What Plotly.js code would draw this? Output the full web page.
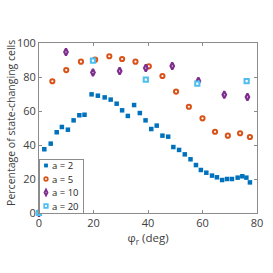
<!DOCTYPE html>
<html><head><meta charset="utf-8">
<script src="https://cdn.plot.ly/plotly-3.0.1.min.js"></script>
<style>html,body{margin:0;padding:0;background:#fff}#c{width:273px;height:273px}</style>
</head><body><div id="c"></div>
<script>
const phiA2 = [0, 1.95, 4.3, 6.5, 8.4, 10.6, 12.7, 14.8, 16.7, 19.3, 21.6, 24.1, 26.3, 28.5, 30.5, 32.6, 34.9, 37.0, 39.1, 41.2, 43.2, 45.3, 47.4, 49.3, 51.4, 53.5, 55.6, 57.6, 59.4, 61.4, 63.5, 65.3, 67.2, 69.0, 70.8, 72.9, 74.6, 76.1, 77.4];
const pctA2 = [0, 37.5, 40.8, 47.5, 50.6, 49, 54.5, 57.5, 57.8, 69.8, 69, 68, 66.7, 64.3, 60.4, 57.1, 63.5, 58.8, 54.5, 49.4, 51.4, 45.5, 44.9, 38.8, 37.1, 34.5, 31.6, 28.2, 25.3, 23.7, 22, 21, 19.4, 20, 20, 20.8, 21.6, 20.8, 18];
const phiA5 = [0, 4.9, 10.0, 15.4, 20.6, 25.8, 30.5, 35.4, 40.3, 45.3, 50.3, 55.0, 60.0, 64.6, 69.3, 73.8, 77.4];
const pctA5 = [0, 77.5, 84.1, 89, 90.2, 92.2, 90.6, 89, 86.3, 80.6, 71.4, 62.5, 55.7, 47.8, 45.5, 46.9, 44.7];
const phiA10 = [0, 9.9, 19.8, 29.6, 39.2, 48.9, 58.5, 68.0, 76.5];
const pctA10 = [0, 94.7, 82.7, 83.5, 85.3, 86.5, 77.6, 69.6, 68.2];
const phiA20 = [0, 19.8, 39.2, 58.1, 76.2];
const pctA20 = [0, 89.6, 78.4, 76.1, 77.6];
const seriesNames = ['a = 2', 'a = 5', 'a = 10', 'a = 20'];
const xTicks = [0, 20, 40, 60, 80];
const yTicks = [0, 20, 40, 60, 80, 100];
const xTitle = 'φ<sub>r</sub> (deg)';
const yTitle = 'Percentage of state-changing cells';

const FONT = 'Open Sans, sans-serif';
const traces = [
  {x: phiA2, y: pctA2, name: seriesNames[0], mode: 'markers', type: 'scatter', cliponaxis: false,
   marker: {symbol: 'square', size: 4.5, color: '#0072BD', line: {width: 0}}},
  {x: phiA5, y: pctA5, name: seriesNames[1], mode: 'markers', type: 'scatter', cliponaxis: false,
   marker: {symbol: 'circle', size: 4.2, color: '#ffffff', line: {width: 2, color: '#D95319'}}},
  {x: phiA10, y: pctA10, name: seriesNames[2], mode: 'markers', type: 'scatter', cliponaxis: false,
   marker: {symbol: 'diamond-tall', size: 5, color: '#ffffff', line: {width: 2.2, color: '#7E2F8E'}}},
  {x: phiA20, y: pctA20, name: seriesNames[3], mode: 'markers', type: 'scatter', cliponaxis: false,
   marker: {symbol: 'square', size: 4.2, color: '#ffffff', line: {width: 2, color: '#4DBEEE'}}}
];

const axisCommon = {
  showgrid: false, zeroline: false, showline: true, mirror: 'ticks',
  linecolor: '#8c8c8c', linewidth: 1, ticks: 'inside', ticklen: 3, tickcolor: '#8c8c8c',
  tickfont: {family: FONT, size: 11, color: '#404040'}
};

const layout = {
  width: 273, height: 273,
  margin: {l: 39, r: 16, t: 43, b: 60},
  paper_bgcolor: '#fff', plot_bgcolor: '#fff',
  showlegend: true,
  legend: {x: 0, y: 0, xanchor: 'left', yanchor: 'bottom', bgcolor: '#fff',
           bordercolor: '#8c8c8c', borderwidth: 1,
           font: {family: FONT, size: 9.5, color: '#262626'},
           tracegroupgap: 0, itemwidth: 30},
  xaxis: Object.assign({}, axisCommon, {range: [0, 80], tickvals: xTicks, ticktext: xTicks.map(String),
    title: {text: xTitle, font: {family: FONT, size: 11.5, color: '#404040'}, standoff: 3}}),
  yaxis: Object.assign({}, axisCommon, {range: [0, 100], tickvals: yTicks, ticktext: yTicks.map(String)}),
  annotations: [{text: yTitle, xref: 'paper', yref: 'paper', x: -28 / 218, y: 0.53,
    xanchor: 'center', yanchor: 'middle', textangle: -90, showarrow: false,
    font: {family: FONT, size: 10.5, color: '#404040'}}]
};

Plotly.newPlot('c', traces, layout, {displayModeBar: false, staticPlot: true}).then(function (gd) {
  const leg = gd.querySelector('.legend');
  if (!leg) return;
  const rowH = 13.5, W = 44, H = 54;
  leg.querySelectorAll('.traces').forEach(function (t, i) {
    t.setAttribute('transform', 'translate(0,' + (6.5 + i * rowH) + ')');
    t.querySelectorAll('.legendpoints path').forEach(function (p) {
      p.setAttribute('transform', 'translate(7,0) scale(0.85)');
    });
    const tx = t.querySelector('.legendtext');
    if (tx) tx.setAttribute('x', 13);
    const tg = t.querySelector('.legendtoggle');
    if (tg) tg.setAttribute('width', W);
  });
  const bg = leg.querySelector('.bg');
  if (bg) { bg.setAttribute('width', W); bg.setAttribute('height', H); }
  const sb = leg.querySelector('.scrollbox');
  if (sb) sb.removeAttribute('clip-path');
  const sbar = leg.querySelector('.scrollbar');
  if (sbar) sbar.remove();
  leg.setAttribute('transform', 'translate(39,' + (213 - H) + ')');
});
</script></body></html>
